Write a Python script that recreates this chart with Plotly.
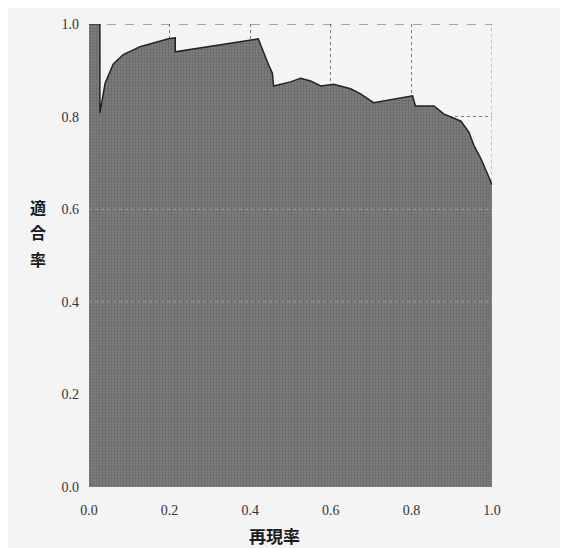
import plotly.graph_objects as go

# Precision-recall curve values
recall = [0.0, 0.027, 0.027, 0.04, 0.06, 0.085, 0.127, 0.169, 0.197, 0.214, 0.214,
          0.42, 0.43, 0.438, 0.445, 0.455, 0.458, 0.50, 0.525, 0.55, 0.575, 0.607,
          0.649, 0.674, 0.706, 0.803, 0.81, 0.856, 0.88, 0.923, 0.943, 0.955,
          0.972, 0.99, 1.0]
precision = [1.0, 1.0, 0.808, 0.872, 0.913, 0.934, 0.951, 0.962, 0.968, 0.970, 0.94,
             0.968, 0.945, 0.93, 0.913, 0.894, 0.866, 0.875, 0.883, 0.877, 0.866, 0.87,
             0.86, 0.849, 0.83, 0.845, 0.823, 0.823, 0.806, 0.79, 0.766, 0.738,
             0.71, 0.674, 0.653]

tick_vals = [0.0, 0.2, 0.4, 0.6, 0.8, 1.0]
tick_text = ["0.0", "0.2", "0.4", "0.6", "0.8", "1.0"]
x_title = "再現率"
y_title = "適合率"

fig = go.Figure()
fig.add_trace(go.Scatter(
    x=recall, y=precision, mode="lines", fill="tozeroy",
    line=dict(color="#222222", width=1.5),
    fillcolor="#6e6e6e",
    fillpattern=dict(shape=".", bgcolor="#7c7c7c", fgcolor="#4c4c4c",
                     size=3, solidity=0.3),
    showlegend=False, hoverinfo="skip",
))

# faint gridlines visible through the fill
for yv in [0.4, 0.6]:
    fig.add_shape(type="line", xref="x", yref="y", x0=0, x1=1, y0=yv, y1=yv,
                  line=dict(color="rgba(235,235,235,0.35)", width=1, dash="dot"),
                  layer="above")
# borders
fig.add_shape(type="line", xref="x", yref="y", x0=0, x1=1, y0=1, y1=1,
              line=dict(color="#555555", width=1.2, dash="dash"), layer="above")
fig.add_shape(type="line", xref="x", yref="y", x0=1, x1=1, y0=0, y1=1,
              line=dict(color="#8a8a8a", width=1, dash="dot"), layer="below")

tickfont = dict(family="Liberation Serif", size=14, color="#333333")
fig.update_xaxes(range=[0, 1], tickvals=tick_vals, ticktext=tick_text,
                 showgrid=True, gridcolor="#7a7a7a", griddash="dot", gridwidth=1,
                 zeroline=False, showline=False, ticks="", tickfont=tickfont,
                 ticklabelstandoff=13)
fig.update_yaxes(range=[0, 1], tickvals=tick_vals, ticktext=tick_text,
                 showgrid=True, gridcolor="#7a7a7a", griddash="dot", gridwidth=1,
                 zeroline=False, showline=False, ticks="", tickfont=tickfont,
                 ticklabelstandoff=9)

fig.add_annotation(text=x_title, xref="paper", yref="paper", x=0.46, y=-0.104,
                   xanchor="center", yanchor="middle", showarrow=False,
                   font=dict(family="Noto Sans CJK JP", size=17, color="#1a1a1a",
                             weight="bold"))
# vertical stacked y title, one character per line
y_char_pos = [0.605, 0.55, 0.492]
for ch, yp in zip(list(y_title), y_char_pos):
    fig.add_annotation(text=ch, xref="paper", yref="paper", x=-0.127, y=yp,
                       xanchor="center", yanchor="middle", showarrow=False,
                       font=dict(family="Noto Sans CJK JP", size=16, color="#1a1a1a",
                                 weight="bold"))

fig.update_layout(
    width=568, height=548,
    margin=dict(l=81, r=84, t=9, b=69),
    paper_bgcolor="#f4f4f4", plot_bgcolor="#f4f4f4",
    showlegend=False,
)

fig.write_html("out.html")
